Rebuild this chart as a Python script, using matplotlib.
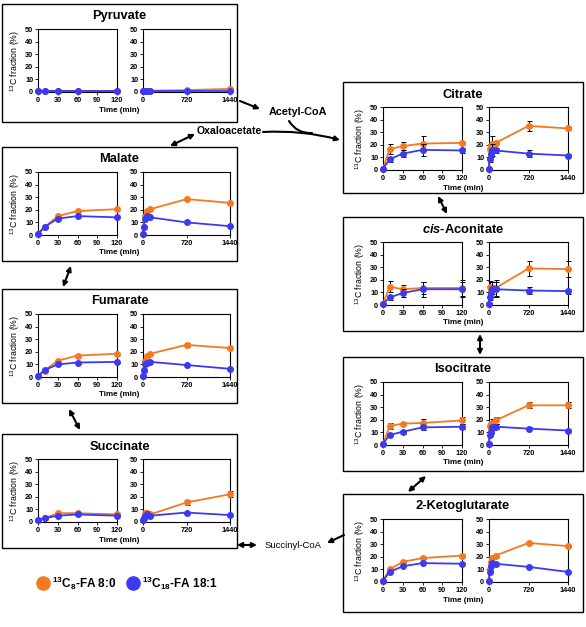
import numpy as np
import matplotlib
matplotlib.use("Agg")
import matplotlib.pyplot as plt
from matplotlib.patches import Rectangle

plt.rcParams["font.family"] = ["Liberation Sans", "DejaVu Sans"]
plt.rcParams["mathtext.fontset"] = "custom"
plt.rcParams["mathtext.rm"] = "Liberation Sans"
plt.rcParams["mathtext.it"] = "Liberation Sans:italic:bold"
plt.rcParams["mathtext.bf"] = "Liberation Sans:bold"

# sampling times (min)
time_pts = [0, 10, 30, 60, 120, 720, 1440]
short_ticks = [0, 30, 60, 90, 120]
long_ticks = [0, 720, 1440]
y_ticks = [0, 10, 20, 30, 40, 50]

# 13C fraction (%) for 13C8-FA 8:0 (fa8) and 13C18-FA 18:1 (fa18)
pyruvate_fa8 = [1, 1, 1, 1, 1, 1.5, 2.5]
pyruvate_fa18 = [1, 1, 1, 1, 1, 1, 1]

malate_fa8 = [1, 6, 15, 19, 20.5, 28.5, 25.5]
malate_fa18 = [1, 6.5, 13, 15, 14, 10, 7]

fumarate_fa8 = [1, 5, 13, 17, 18.5, 25.5, 23]
fumarate_fa18 = [1, 5.5, 10, 11.5, 12, 9.5, 6.5]
fumarate_err8 = [0, 0, 0, 0, 0, 1.5, 0]

succinate_fa8 = [1.5, 3, 7, 7, 6, 15.5, 22]
succinate_fa18 = [1.5, 3, 5, 6, 5, 7.5, 5.5]
succinate_err8 = [0, 0, 1, 1, 1.5, 2, 2.5]

citrate_fa8 = [1, 16.5, 19, 21, 21.5, 35, 33]
citrate_fa18 = [1, 8.5, 13, 16, 15.5, 13, 11.5]
citrate_err8 = [0, 4, 3.5, 6, 1, 4, 1.5]
citrate_err18 = [0, 2, 3, 5, 2, 2.5, 1]

aconitate_fa8 = [1, 14.5, 12.5, 13.5, 13.5, 29, 28.5]
aconitate_fa18 = [1, 6, 9.5, 12.5, 12.5, 11.5, 11]
aconitate_err8 = [0, 4.5, 3, 5, 6, 6, 6.5]
aconitate_err18 = [0, 2, 3.5, 6, 6, 2.5, 2]

isocitrate_fa8 = [1, 15, 17, 17.5, 19.5, 31.5, 31.5]
isocitrate_fa18 = [1, 8, 10.5, 14, 14.5, 13, 11.5]
isocitrate_err8 = [0, 2.5, 1, 3.5, 2.5, 2.5, 2.5]
isocitrate_err18 = [0, 1, 1.5, 2, 2, 1, 1]

ketoglutarate_fa8 = [1, 10, 16, 19, 21, 31, 28.5]
ketoglutarate_fa18 = [1, 8, 12.5, 15, 14.5, 12, 8]
ketoglutarate_err8 = [0, 1, 1, 1, 1, 1, 1]

zeros = [0] * 7

ORANGE = "#F47920"
BLUE = "#3A3AF2"

W, H = 586, 627
fig = plt.figure(figsize=(W / 100, H / 100), dpi=100)

# overlay in pixel coords for boxes, arrows, labels
ov = fig.add_axes([0, 0, 1, 1], zorder=0)
ov.set_xlim(0, W)
ov.set_ylim(H, 0)
ov.axis("off")


def px_axes(x0, y0, x1, y1):
    return fig.add_axes([x0 / W, 1 - y1 / H, (x1 - x0) / W, (y1 - y0) / H], zorder=2)


def draw_series(ax, t, v8, v18, e8, e18):
    ax.errorbar(t, v8, yerr=e8, color=ORANGE, lw=1.3, marker="o", ms=4,
                ecolor="black", elinewidth=0.7, capsize=1.8, capthick=0.7, clip_on=False, zorder=3)
    ax.errorbar(t, v18, yerr=e18, color=BLUE, lw=1.3, marker="o", ms=4,
                ecolor="black", elinewidth=0.7, capsize=1.8, capthick=0.7, clip_on=False, zorder=4)


def style_axes(ax, xticks, xmax):
    ax.set_xlim(0, xmax)
    ax.set_ylim(0, 50)
    ax.set_xticks(xticks)
    ax.set_yticks(y_ticks)
    ax.tick_params(labelsize=5.3, length=2, width=0.6, pad=1.5, direction="out")
    for lab in ax.get_xticklabels() + ax.get_yticklabels():
        lab.set_fontweight("bold")
    for s in ax.spines.values():
        s.set_linewidth(0.8)
        s.set_color("black")


def panel(name, bx0, bx1, top, lax, rax, v8, v18, e8, e18, height=114):
    ov.add_patch(Rectangle((bx0, top), bx1 - bx0, height, fill=False, lw=1.0, ec="black"))
    ov.text((bx0 + bx1) / 2, top + 12.5, name, ha="center", va="center",
            fontsize=9.3, fontweight="bold")
    ov.text((bx0 + bx1) / 2, top + 106, "Time (min)", ha="center", va="center",
            fontsize=5.8, fontweight="bold")
    a1 = px_axes(lax[0], top + 25, lax[1], top + 88)
    draw_series(a1, time_pts[:5], v8[:5], v18[:5], e8[:5], e18[:5])
    style_axes(a1, short_ticks, 120)
    a1.set_ylabel(r"$^{13}$C fraction (%)", fontsize=6.3, labelpad=2)
    a2 = px_axes(rax[0], top + 25, rax[1], top + 88)
    draw_series(a2, time_pts, v8, v18, e8, e18)
    style_axes(a2, long_ticks, 1440)


LX = (2, 237)
RX = (343, 583)
panel("Pyruvate", *LX, 4, (38, 117), (143, 230), pyruvate_fa8, pyruvate_fa18, zeros, zeros, height=118)
panel("Malate", *LX, 147, (38, 117), (143, 230), malate_fa8, malate_fa18, zeros, zeros)
panel("Fumarate", *LX, 289, (38, 117), (143, 230), fumarate_fa8, fumarate_fa18, fumarate_err8, zeros)
panel("Succinate", *LX, 434, (38, 117), (143, 230), succinate_fa8, succinate_fa18, succinate_err8, zeros)
panel("Citrate", *RX, 82, (383, 462), (489, 568), citrate_fa8, citrate_fa18, citrate_err8, citrate_err18, height=111)
panel(r"$\mathit{cis}$-Aconitate", *RX, 217, (383, 462), (489, 568), aconitate_fa8, aconitate_fa18,
      aconitate_err8, aconitate_err18)
panel("Isocitrate", *RX, 357, (383, 462), (489, 568), isocitrate_fa8, isocitrate_fa18,
      isocitrate_err8, isocitrate_err18)
panel("2-Ketoglutarate", *RX, 494, (383, 462), (489, 568), ketoglutarate_fa8, ketoglutarate_fa18,
      ketoglutarate_err8, zeros, height=118)

# pathway labels and arrows
one = dict(arrowstyle="-|>", lw=1.5, color="black", mutation_scale=7, shrinkA=0, shrinkB=0)
two = dict(arrowstyle="<|-|>", lw=1.5, color="black", mutation_scale=7, shrinkA=0, shrinkB=0)

ov.text(298, 112, "Acetyl-CoA", ha="center", va="center", fontsize=7.8, fontweight="bold")
ov.text(229, 131, "Oxaloacetate", ha="center", va="center", fontsize=7.6, fontweight="bold")
ov.text(293, 546, "Succinyl-CoA", ha="center", va="center", fontsize=6.8)

ov.annotate("", xy=(260, 109), xytext=(240, 101), arrowprops=one)
ov.annotate("", xy=(340, 140), xytext=(263, 132),
            arrowprops=dict(one, connectionstyle="arc3,rad=-0.08"))
ov.annotate("", xy=(312, 133), xytext=(289, 121),
            arrowprops=dict(arrowstyle="-", lw=1.5, color="black", shrinkA=0, shrinkB=0,
                            connectionstyle="arc3,rad=0.3"))
ov.annotate("", xy=(170, 146), xytext=(195, 134), arrowprops=two)
ov.annotate("", xy=(63, 287), xytext=(71, 266), arrowprops=two)
ov.annotate("", xy=(80, 430), xytext=(69, 409), arrowprops=two)
ov.annotate("", xy=(447, 214), xytext=(438, 196), arrowprops=two)
ov.annotate("", xy=(480, 355), xytext=(480, 334), arrowprops=two)
ov.annotate("", xy=(408, 492), xytext=(426, 476), arrowprops=two)
ov.annotate("", xy=(237, 545), xytext=(257, 545), arrowprops=two)
ov.annotate("", xy=(327, 543), xytext=(344, 535), arrowprops=one)

# legend
ov.plot([43], [583], "o", ms=9.5, color=ORANGE)
ov.text(52, 583, r"$^{\mathbf{13}}\mathbf{C}_{\mathbf{8}}$-FA 8:0", ha="left", va="center",
        fontsize=8.5, fontweight="bold")
ov.plot([133], [583], "o", ms=9.5, color=BLUE)
ov.text(142, 583, r"$^{\mathbf{13}}\mathbf{C}_{\mathbf{18}}$-FA 18:1", ha="left", va="center",
        fontsize=8.5, fontweight="bold")

fig.savefig("out.png", dpi=100)
